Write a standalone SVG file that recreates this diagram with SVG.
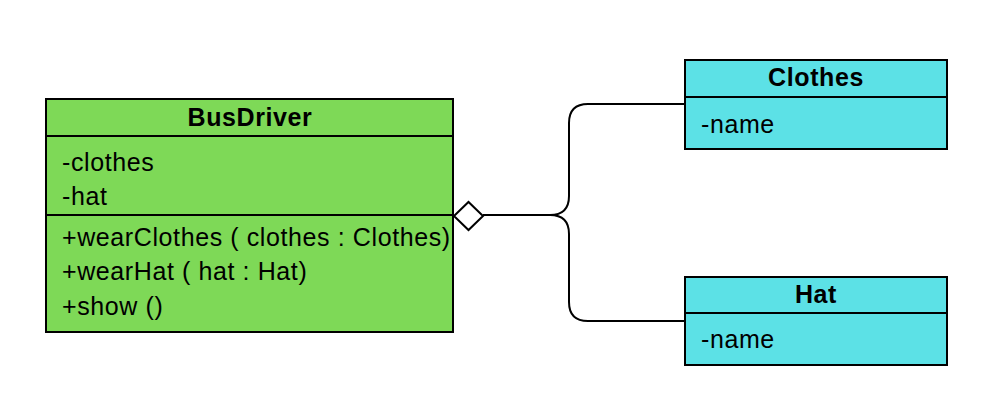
<svg xmlns="http://www.w3.org/2000/svg" width="1003" height="412" viewBox="0 0 1003 412">
<style>
.box{stroke:#000;stroke-width:2}
.green{fill:#7ED957}
.cyan{fill:#5CE1E6}
.div{stroke:#000;stroke-width:2}
.t{font-family:"Liberation Sans",Arial,sans-serif;font-size:25px;letter-spacing:0.6px;fill:#000}
.h{font-weight:bold;text-anchor:middle}
.conn{fill:none;stroke:#000;stroke-width:2}
</style>
<rect width="1003" height="412" fill="#fff"/>
<g id="BusDriver">
<rect class="box green" x="46" y="99" width="407" height="233"/>
<line class="div" x1="46" y1="136" x2="453" y2="136"/>
<line class="div" x1="46" y1="215" x2="453" y2="215"/>
<text class="t h" x="250" y="126">BusDriver</text>
<text class="t" x="62" y="171">-clothes</text>
<text class="t" x="62" y="205">-hat</text>
<text class="t" x="62" y="246">+wearClothes ( clothes : Clothes)</text>
<text class="t" x="62" y="280">+wearHat ( hat : Hat)</text>
<text class="t" x="62" y="315">+show ()</text>
</g>
<g id="Clothes">
<rect class="box cyan" x="685" y="60" width="262" height="89"/>
<line class="div" x1="685" y1="97" x2="947" y2="97"/>
<text class="t h" x="816" y="86">Clothes</text>
<text class="t" x="701" y="133">-name</text>
</g>
<g id="Hat">
<rect class="box cyan" x="685" y="277" width="262" height="88"/>
<line class="div" x1="685" y1="313" x2="947" y2="313"/>
<text class="t h" x="816" y="303">Hat</text>
<text class="t" x="701" y="348">-name</text>
</g>
<g id="connectors">
<path class="conn" d="M483,215 H550 Q569,215 569,196 V123 Q569,104 588,104 H685"/>
<path class="conn" d="M483,215 H550 Q569,215 569,234 V302 Q569,321 588,321 H685"/>
<polygon points="454,216 468.5,202 483,216 468.5,230" fill="#fff" stroke="#000" stroke-width="2"/>
</g>
</svg>
